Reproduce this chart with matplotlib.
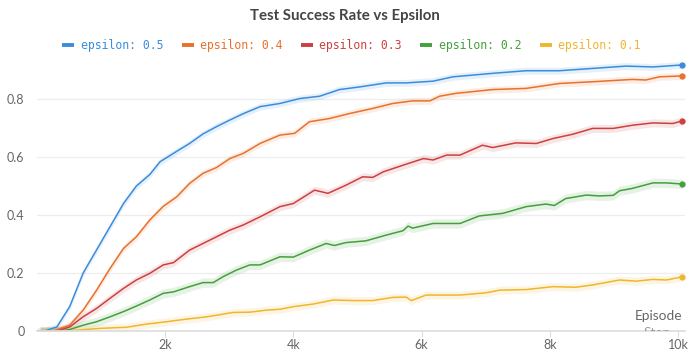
import matplotlib
matplotlib.use("Agg")
import matplotlib.pyplot as plt
from matplotlib.ticker import FuncFormatter

# Episode step at which each value was logged, and the test success rate
blue_steps = [0, 120, 310, 510, 720, 930, 1140, 1350, 1550, 1760, 1920, 2180, 2380, 2590,
              2800, 3010, 3220, 3480, 3790, 4100, 4410, 4720, 5030, 5450, 5760, 6180, 6490,
              7110, 7630, 8150, 8670, 9190, 9610, 10070]
blue_vals = [0, 0, 0.014, 0.084, 0.20, 0.28, 0.36, 0.44, 0.50, 0.54, 0.584, 0.62, 0.647, 0.68,
             0.705, 0.728, 0.75, 0.774, 0.785, 0.802, 0.81, 0.833, 0.842, 0.856, 0.856, 0.862, 0.877,
             0.889, 0.898, 0.898, 0.906, 0.914, 0.911, 0.918]

orange_steps = [50, 250, 510, 720, 930, 1140, 1350, 1550, 1760, 1970, 2180, 2380, 2590, 2800,
                3010, 3220, 3480, 3790, 4020, 4250, 4560, 4870, 5240, 5550, 5860, 6130, 6280,
                6540, 7110, 7630, 8150, 8670, 9290, 9500, 9710, 10070]
orange_vals = [0, 0, 0.02, 0.072, 0.141, 0.216, 0.285, 0.325, 0.383, 0.43, 0.463, 0.509, 0.544,
               0.564, 0.595, 0.613, 0.647, 0.676, 0.682, 0.722, 0.733, 0.75, 0.768, 0.785, 0.794,
               0.794, 0.81, 0.82, 0.833, 0.837, 0.854, 0.86, 0.868, 0.866, 0.877, 0.88]

red_steps = [50, 310, 510, 720, 930, 1140, 1350, 1550, 1760, 1970, 2130, 2380, 2590, 2800, 3010,
             3220, 3480, 3790, 4000, 4330, 4540, 4820, 5080, 5240, 5400, 5710, 6030, 6180, 6390,
             6600, 6950, 7110, 7470, 7790, 8050, 8360, 8670, 8990, 9290, 9610, 9920, 10070]
red_vals = [0, 0, 0.014, 0.049, 0.078, 0.113, 0.147, 0.176, 0.199, 0.228, 0.236, 0.279, 0.302,
            0.325, 0.348, 0.366, 0.394, 0.429, 0.44, 0.486, 0.475, 0.503, 0.532, 0.53, 0.549,
            0.572, 0.595, 0.59, 0.607, 0.607, 0.641, 0.633, 0.649, 0.647, 0.664, 0.679, 0.699,
            0.699, 0.71, 0.718, 0.716, 0.725]

green_steps = [50, 360, 510, 720, 930, 1140, 1350, 1550, 1760, 1970, 2130, 2380, 2590, 2750,
               2900, 3110, 3320, 3480, 3790, 4000, 4250, 4510, 4640, 4820, 5130, 5450, 5710,
               5790, 5860, 6180, 6600, 6900, 7270, 7630, 7940, 8070, 8250, 8570, 8770, 8990,
               9090, 9290, 9610, 9820, 10070]
green_vals = [0, 0, 0.005, 0.02, 0.032, 0.049, 0.067, 0.086, 0.107, 0.13, 0.135, 0.153, 0.167,
              0.167, 0.187, 0.21, 0.228, 0.228, 0.256, 0.255, 0.279, 0.302, 0.295, 0.305, 0.311,
              0.331, 0.346, 0.362, 0.355, 0.371, 0.371, 0.397, 0.406, 0.429, 0.438, 0.433, 0.457,
              0.469, 0.466, 0.468, 0.484, 0.492, 0.511, 0.511, 0.507]

yellow_steps = [50, 460, 980, 1400, 1710, 2020, 2330, 2650, 3060, 3320, 3580, 3790, 4000, 4310,
                4620, 4930, 5240, 5550, 5760, 5840, 6070, 6600, 7010, 7220, 7630, 8050, 8410,
                8670, 9090, 9350, 9610, 9820, 10070]
yellow_vals = [0, 0, 0.009, 0.013, 0.024, 0.032, 0.041, 0.049, 0.064, 0.065, 0.072, 0.075, 0.084,
               0.093, 0.107, 0.105, 0.105, 0.116, 0.117, 0.105, 0.124, 0.124, 0.132, 0.141, 0.143,
               0.153, 0.151, 0.159, 0.176, 0.172, 0.178, 0.176, 0.187]

labels = ["epsilon: 0.5", "epsilon: 0.4", "epsilon: 0.3", "epsilon: 0.2", "epsilon: 0.1"]
colors = ["#3a8ddc", "#e8712c", "#cc4040", "#43a03a", "#f0b62c"]
bands = [0.012, 0.012, 0.014, 0.016, 0.014]

series = [
    (blue_steps, blue_vals),
    (orange_steps, orange_vals),
    (red_steps, red_vals),
    (green_steps, green_vals),
    (yellow_steps, yellow_vals),
]

plt.rcParams["font.family"] = ["Lato", "DejaVu Sans"]

fig = plt.figure(figsize=(6.89, 3.54), dpi=100)
ax = fig.add_axes([37 / 689, 23 / 354, 648 / 689, 271 / 354])

handles = []
for (steps, vals), label, color, band in zip(series, labels, colors, bands):
    lo = [max(v - band, 0) for v in vals]
    hi = [v + band for v in vals]
    ax.fill_between(steps, lo, hi, color=color, alpha=0.13, linewidth=0)
    (line,) = ax.plot(steps, vals, color=color, linewidth=1.1, label=label)
    ax.plot(steps[-1], vals[-1], "o", color=color, markersize=3.5)
    handles.append(line)

ax.set_xlim(0, 10110)
ax.set_ylim(0, 0.935)
ax.set_xticks([2000, 4000, 6000, 8000, 10000])
ax.set_yticks([0, 0.2, 0.4, 0.6, 0.8])
ax.xaxis.set_major_formatter(FuncFormatter(lambda v, _: f"{int(v / 1000)}k"))
ax.yaxis.set_major_formatter(FuncFormatter(lambda v, _: "0" if v == 0 else f"{v:.1f}"))

ax.grid(axis="y", color="#eeeeee", linewidth=0.9)
ax.set_axisbelow(True)
for side in ["top", "right", "left"]:
    ax.spines[side].set_visible(False)
ax.spines["bottom"].set_color("#dddddd")
ax.spines["bottom"].set_linewidth(1.2)
ax.tick_params(axis="x", length=4, color="#dddddd", labelcolor="#666666", labelsize=9, pad=2)
ax.tick_params(axis="y", length=0, labelcolor="#666666", labelsize=9, pad=9)

# x-axis name tucked into the corner, second word cut off by the axis
ax.text(0.995, 0.033, "Episode", transform=ax.transAxes, ha="right", va="bottom",
        fontsize=9.8, color="#666666")
step_txt = ax.text(0.978, 0.014, "Step", transform=ax.transAxes, ha="right", va="top",
                   fontsize=9.8, color="#999999")
step_txt.set_clip_box(ax.bbox)
step_txt.set_clip_on(True)

fig.text(0.5, 0.955, "Test Success Rate vs Epsilon", ha="center", va="center",
         fontsize=10.8, fontweight="bold", color="#444444")

leg = fig.legend(handles=handles, loc="center", bbox_to_anchor=(0.51, 0.872), ncol=5,
                 frameon=False, handlelength=1.05, handletextpad=0.55, columnspacing=1.6,
                 prop={"family": "DejaVu Sans Mono", "size": 8.3}, labelcolor="linecolor")
for h in leg.legend_handles:
    h.set_linewidth(2.8)
    h.set_solid_capstyle("butt")

fig.savefig("out.png", dpi=100)
